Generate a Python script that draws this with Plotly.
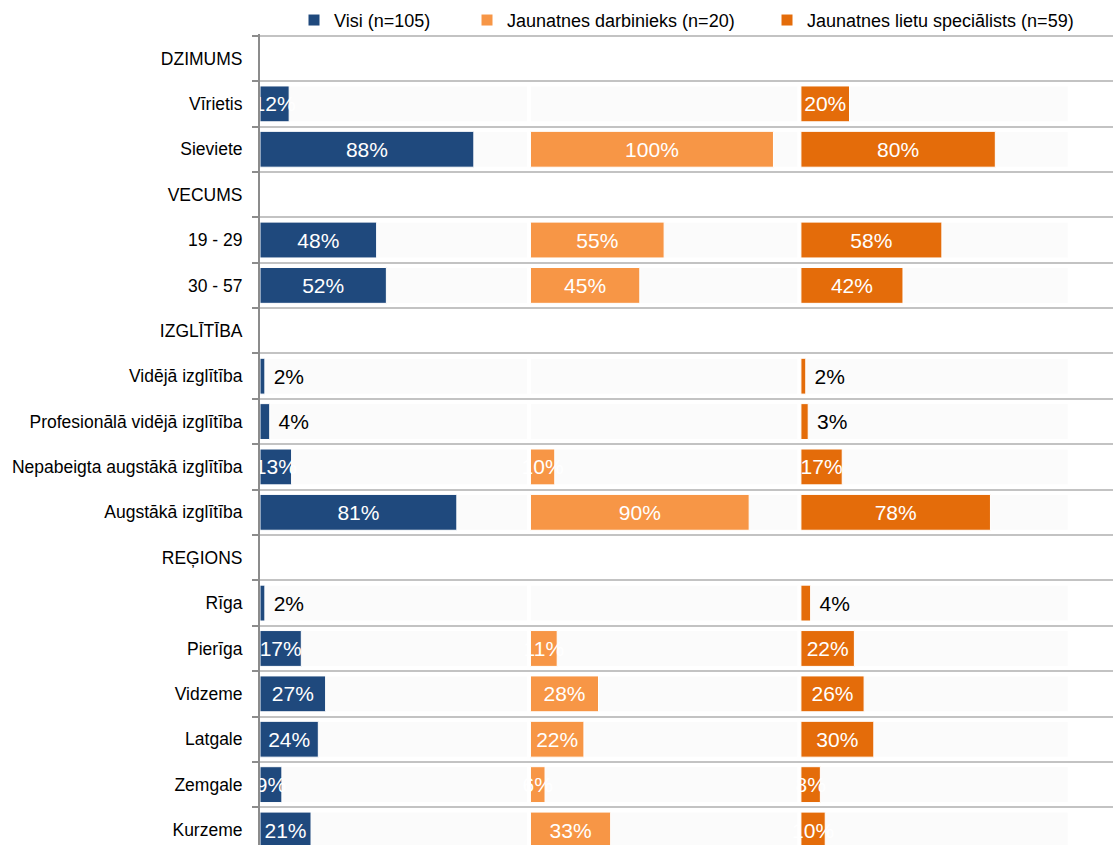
import plotly.graph_objects as go

categories = ["DZIMUMS", "Vīrietis", "Sieviete", "VECUMS", "19 - 29", "30 - 57",
              "IZGLĪTĪBA", "Vidējā izglītība", "Profesionālā vidējā izglītība",
              "Nepabeigta augstākā izglītība", "Augstākā izglītība", "REĢIONS",
              "Rīga", "Pierīga", "Vidzeme", "Latgale", "Zemgale", "Kurzeme"]
header_rows = ["DZIMUMS", "VECUMS", "IZGLĪTĪBA", "REĢIONS"]

visi = [None, 12, 88, None, 48, 52, None, 2, 4, 13, 81, None, 2, 17, 27, 24, 9, 21]
darbinieks = [None, 0, 100, None, 55, 45, None, 0, 0, 10, 90, None, 0, 11, 28, 22, 6, 33]
specialists = [None, 20, 80, None, 58, 42, None, 2, 3, 17, 78, None, 4, 22, 26, 30, 8, 10]

series_names = ["Visi (n=105)", "Jaunatnes darbinieks (n=20)", "Jaunatnes lietu speciālists (n=59)"]
series_values = [visi, darbinieks, specialists]
colors = ["#1F497D", "#F79646", "#E46C0A"]

PANEL_STEP = 111.3
PANEL_FILL = 110
OUTSIDE_MAX = 4

FONT = "Liberation Sans, Arial, sans-serif"

W, H = 1113, 845
PLOT_LEFT = 260
ROW_H = 45.4
FIRST_BOUNDARY_PX = 35.5     # window pixel of the top row boundary
TOP_EXTRA = 0.04             # rows of headroom so the top grid line is drawn
PLOT_TOP = FIRST_BOUNDARY_PX - TOP_EXTRA * ROW_H
PX_PER_PCT = 2.43

fig = go.Figure()

data_rows = [c for c in categories if c not in header_rows]

# faint background panels (Excel filler series look)
for i in range(3):
    fig.add_trace(go.Bar(
        y=data_rows, x=[PANEL_FILL] * len(data_rows), base=i * PANEL_STEP,
        orientation="h", marker=dict(color="#fbfbfb", line=dict(color="white", width=1)),
        width=0.79, showlegend=False, hoverinfo="skip"))

legend_keys = ["legend", "legend2", "legend3"]
for i, (name, vals, col) in enumerate(zip(series_names, series_values, colors)):
    ys, xs, texts, pos = [], [], [], []
    for c, v in zip(categories, vals):
        if v is None:
            continue
        ys.append(c)
        xs.append(v)
        if v == 0:
            texts.append("")
            pos.append("none")
        elif v <= OUTSIDE_MAX:
            texts.append("\u00a0" + f"{v}%")
            pos.append("outside")
        else:
            texts.append(f"{v}%")
            pos.append("inside")
    fig.add_trace(go.Bar(
        y=ys, x=xs, base=i * PANEL_STEP, name=name, orientation="h",
        marker=dict(color=col, line=dict(color="white", width=1)),
        width=0.79, text=texts, textposition=pos, textangle=0,
        insidetextanchor="middle",
        insidetextfont=dict(color="white", size=21, family=FONT),
        outsidetextfont=dict(color="black", size=21, family=FONT),
        constraintext="none", cliponaxis=True,
        legend=legend_keys[i]))

plot_w = W - PLOT_LEFT
plot_h = H - PLOT_TOP
y_top = -0.5 - TOP_EXTRA
y_bottom = y_top + plot_h / ROW_H
leg_y = 1 + (PLOT_TOP - 20) / plot_h

def leg(text_start_px):
    return dict(x=(text_start_px - 42 - PLOT_LEFT) / plot_w, y=leg_y,
                xanchor="left", yanchor="middle",
                orientation="h", bgcolor="rgba(0,0,0,0)",
                font=dict(family=FONT, size=18, color="black"))

fig.update_layout(
    width=W, height=H,
    margin=dict(l=PLOT_LEFT, r=0, t=PLOT_TOP, b=0),
    barmode="overlay",
    plot_bgcolor="white", paper_bgcolor="white",
    uniformtext=dict(minsize=21, mode="show"),
    legend=leg(336), legend2=leg(509), legend3=leg(809),
    xaxis=dict(range=[0, plot_w / PX_PER_PCT], visible=False, fixedrange=True),
    yaxis=dict(type="category", categoryorder="array", categoryarray=categories,
               range=[y_bottom, y_top], tickson="boundaries",
               ticks="outside", ticklen=6, tickcolor="#8c8c8c", tickwidth=2,
               showline=True, linecolor="#8c8c8c", linewidth=2,
               showgrid=True, gridcolor="#c3c3c3", gridwidth=2,
               tickfont=dict(family=FONT, size=17.5, color="black"),
               ticklabelstandoff=12, fixedrange=True),
)

fig.write_html("out.html",
               config={"displayModeBar": False},
               post_script="document.body.style.margin='0';document.body.style.overflow='hidden';")
